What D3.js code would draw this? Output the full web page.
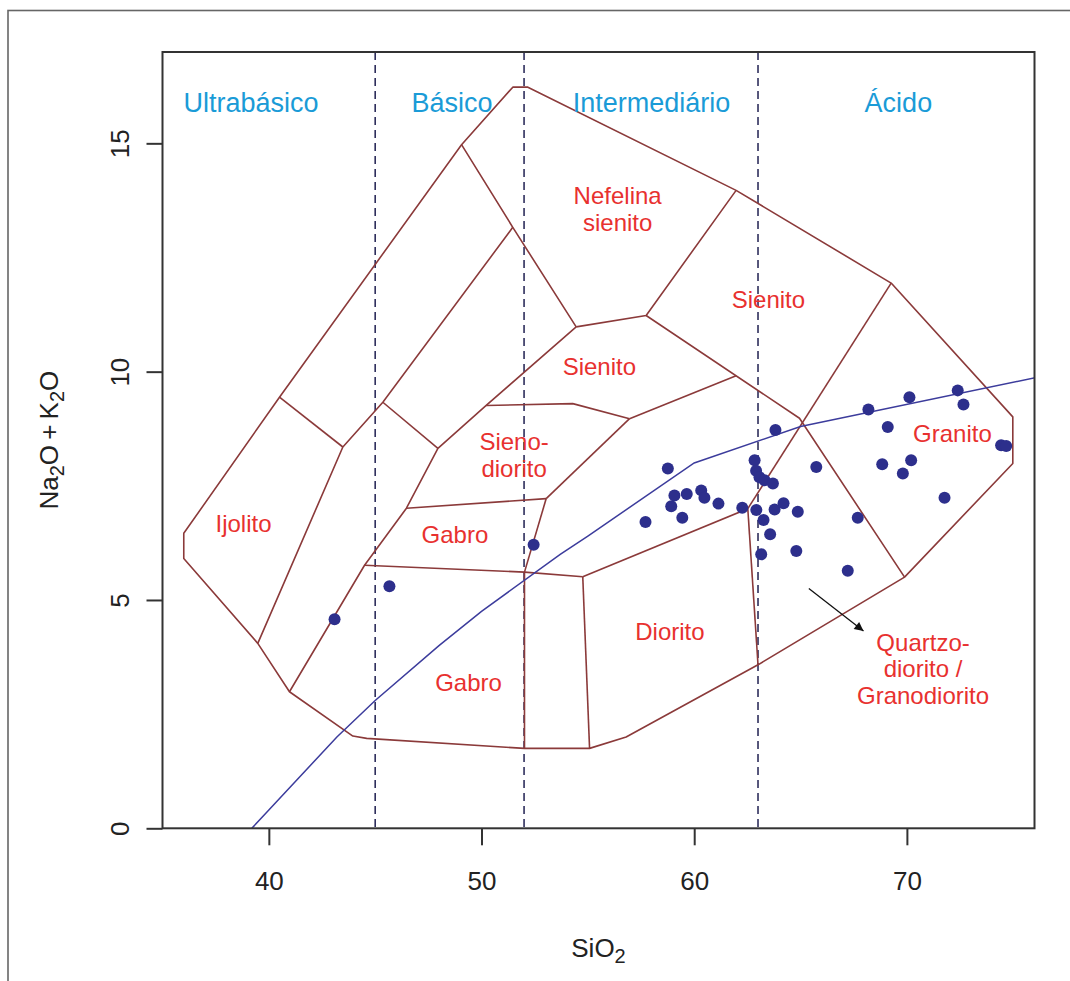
<!DOCTYPE html>
<html>
<head>
<meta charset="utf-8">
<script src="https://cdn.jsdelivr.net/npm/d3@7"></script>
<style>
  html, body { margin: 0; padding: 0; background: #fff; }
  svg { display: block; font-family: "Liberation Sans", Arial, Helvetica, sans-serif; }
  .field { fill: none; stroke: #8b3a3a; stroke-width: 1.6; stroke-linejoin: round; }
  .limit { stroke: #2e2e5c; stroke-width: 1.6; stroke-dasharray: 8 5; }
  .tick-label { font-size: 26px; fill: #222; }
  .zone { font-size: 27px; fill: #1a9bd7; text-anchor: middle; }
  .rock { font-size: 24px; fill: #e8312f; text-anchor: middle; }
</style>
</head>
<body>
<svg id="tas" width="1070" height="981"></svg>
<script>
// SiO2 (wt%) vs Na2O+K2O (wt%) — classification fields
const outline = [
  [36.0, 6.46], [40.5, 9.44], [49.06, 14.97], [51.47, 16.23], [52.18, 16.23],
  [61.97, 13.97], [69.26, 11.94], [74.98, 9.01], [74.98, 7.99], [69.89, 5.5],
  [63.0, 3.58], [56.8, 2.0], [55.08, 1.75], [52.02, 1.75], [44.6, 1.97],
  [43.95, 2.02], [40.97, 2.99], [39.48, 4.05], [36.0, 5.91]
];

const divides = [
  [[40.5, 9.44], [43.48, 8.35]],
  [[39.48, 4.05], [43.48, 8.35], [45.36, 9.33], [51.47, 13.16]],
  [[45.36, 9.33], [47.95, 8.32]],
  [[49.06, 14.97], [51.47, 13.16], [54.45, 10.98]],
  [[40.97, 2.99], [44.5, 5.76], [46.47, 7.01], [47.95, 8.32], [50.22, 9.26], [54.45, 10.98]],
  [[54.45, 10.98], [57.74, 11.23], [61.97, 13.97]],
  [[57.74, 11.23], [64.95, 8.98], [69.89, 5.5]],
  [[61.97, 9.91], [56.96, 8.97]],
  [[50.22, 9.26], [54.29, 9.3], [56.96, 8.97]],
  [[56.96, 8.97], [53.04, 7.22]],
  [[46.47, 7.01], [53.04, 7.22]],
  [[53.04, 7.22], [52.02, 5.61]],
  [[44.5, 5.76], [52.02, 5.61], [54.76, 5.51]],
  [[52.02, 5.61], [52.02, 1.75]],
  [[54.76, 5.51], [55.08, 1.75]],
  [[54.76, 5.51], [62.52, 7.0]],
  [[62.52, 7.0], [63.0, 3.58]],
  [[69.26, 11.94], [62.52, 7.0]]
];

// Irvine & Baragar alkaline / subalkaline divide
const alkalineLine = [
  [39.2, 0], [40, 0.4], [43.2, 2], [45, 2.8], [48, 4], [50, 4.75],
  [53.7, 6], [55, 6.4], [60, 8], [65, 8.8], [77.4, 10]
];

// silica limits: ultrabasic / basic / intermediate / acid
const silicaLimits = [45, 52, 63];

const zones = [
  { name: 'Ultrabásico', x: 39.16 },
  { name: 'Básico', x: 48.61 },
  { name: 'Intermediário', x: 57.99 },
  { name: 'Ácido', x: 69.6 }
];

const rockNames = [
  { lines: ['Nefelina', 'sienito'], x: 56.4, y: 13.67 },
  { lines: ['Sienito'], x: 63.49, y: 11.39 },
  { lines: ['Sienito'], x: 55.54, y: 9.92 },
  { lines: ['Sieno-', 'diorito'], x: 51.53, y: 8.28 },
  { lines: ['Ijolito'], x: 38.81, y: 6.49 },
  { lines: ['Gabro'], x: 48.75, y: 6.25 },
  { lines: ['Gabro'], x: 49.39, y: 3.01 },
  { lines: ['Diorito'], x: 58.86, y: 4.12 },
  { lines: ['Granito'], x: 72.14, y: 8.46 },
  { lines: ['Quartzo-', 'diorito /', 'Granodiorito'], x: 70.76, y: 3.89 }
];

const samples = [
  [43.09, 4.58], [45.67, 5.3], [52.45, 6.21],
  [58.76, 7.88], [57.71, 6.71], [59.07, 7.29], [58.92, 7.05], [59.65, 7.32],
  [59.44, 6.8], [60.33, 7.4], [60.48, 7.24], [61.14, 7.11], [62.26, 7.02],
  [62.84, 8.06], [62.91, 7.83], [63.07, 7.69], [63.31, 7.62], [63.7, 7.55],
  [62.92, 6.97], [63.78, 6.98], [64.2, 7.12], [63.26, 6.75], [64.87, 6.93],
  [63.57, 6.44], [63.15, 6.0], [64.8, 6.07], [63.82, 8.72], [65.74, 7.91],
  [67.69, 6.8], [67.22, 5.64], [68.19, 9.17], [69.1, 8.79], [68.84, 7.97],
  [70.12, 9.44], [69.81, 7.77], [70.2, 8.06], [72.39, 9.59], [72.66, 9.28],
  [71.77, 7.24], [74.43, 8.39], [74.67, 8.37]
];

const arrowFrom = [65.39, 5.25];
const arrowTo = [67.96, 4.32];

const xTicks = [40, 50, 60, 70];
const yTicks = [0, 5, 10, 15];

const svg = d3.select('#tas');
const plotLeft = 162.5, plotRight = 1034.5, plotTop = 52, plotBottom = 828.3;

const x = d3.scaleLinear().domain([35, 76]).range([plotLeft, plotRight]);
const y = d3.scaleLinear().domain([0, 17]).range([plotBottom, plotTop]);

// outer frame of the figure
svg.append('rect')
  .attr('x', 8).attr('y', 10.5)
  .attr('width', 1080).attr('height', 1000)
  .attr('fill', 'none').attr('stroke', '#666').attr('stroke-width', 1.6);

const defs = svg.append('defs');
defs.append('clipPath').attr('id', 'plot-area')
  .append('rect')
  .attr('x', plotLeft).attr('y', plotTop)
  .attr('width', plotRight - plotLeft).attr('height', plotBottom - plotTop);

defs.append('marker')
  .attr('id', 'head')
  .attr('viewBox', '0 0 10 10')
  .attr('refX', 10).attr('refY', 5)
  .attr('markerUnits', 'userSpaceOnUse')
  .attr('markerWidth', 11).attr('markerHeight', 9)
  .attr('orient', 'auto')
  .append('path').attr('d', 'M0,0 L10,5 L0,10 z').attr('fill', '#111');

const plot = svg.append('g').attr('clip-path', 'url(#plot-area)');
const line = d3.line().x(d => x(d[0])).y(d => y(d[1]));

plot.selectAll('.limit')
  .data(silicaLimits)
  .enter()
  .append('line')
  .attr('class', 'limit')
  .attr('x1', d => x(d)).attr('x2', d => x(d))
  .attr('y1', y(17)).attr('y2', y(0));

plot.append('path')
  .datum(outline)
  .attr('class', 'field')
  .attr('d', d => line(d) + 'Z');

plot.selectAll('.divide')
  .data(divides)
  .enter()
  .append('path')
  .attr('class', 'field divide')
  .attr('d', line);

plot.append('path')
  .datum(alkalineLine)
  .attr('fill', 'none')
  .attr('stroke', '#3c3c9c')
  .attr('stroke-width', 1.5)
  .attr('d', line);

plot.selectAll('.sample')
  .data(samples)
  .enter()
  .append('circle')
  .attr('class', 'sample')
  .attr('cx', d => x(d[0]))
  .attr('cy', d => y(d[1]))
  .attr('r', 6)
  .attr('fill', '#2d2f8c');

plot.append('line')
  .attr('x1', x(arrowFrom[0])).attr('y1', y(arrowFrom[1]))
  .attr('x2', x(arrowTo[0])).attr('y2', y(arrowTo[1]))
  .attr('stroke', '#111').attr('stroke-width', 1.3)
  .attr('marker-end', 'url(#head)');

// zone names along the top
svg.selectAll('.zone')
  .data(zones)
  .enter()
  .append('text')
  .attr('class', 'zone')
  .attr('x', d => x(d.x))
  .attr('y', y(15.68))
  .text(d => d.name);

// rock names
const rock = svg.selectAll('.rock')
  .data(rockNames)
  .enter()
  .append('text')
  .attr('class', 'rock')
  .attr('x', d => x(d.x))
  .attr('y', d => y(d.y));

rock.selectAll('tspan')
  .data(d => d.lines.map((t, i) => ({ t, i, x: d.x })))
  .enter()
  .append('tspan')
  .attr('x', d => x(d.x))
  .attr('dy', d => d.i === 0 ? 0 : 26.5)
  .text(d => d.t);

// plot box
svg.append('rect')
  .attr('x', plotLeft).attr('y', plotTop)
  .attr('width', plotRight - plotLeft).attr('height', plotBottom - plotTop)
  .attr('fill', 'none').attr('stroke', '#333').attr('stroke-width', 2);

// axes
const xAxis = svg.append('g')
  .attr('transform', `translate(0, ${plotBottom})`)
  .call(d3.axisBottom(x).tickValues(xTicks).tickSize(17).tickPadding(26));
xAxis.select('.domain').remove();
xAxis.selectAll('line').attr('stroke', '#333').attr('stroke-width', 2);
xAxis.selectAll('text').attr('class', 'tick-label');
xAxis.attr('font-size', null).attr('font-family', null);

const yAxis = svg.append('g')
  .attr('transform', `translate(${plotLeft}, 0)`)
  .call(d3.axisLeft(y).tickValues(yTicks).tickSize(16));
yAxis.select('.domain').remove();
yAxis.selectAll('line').attr('stroke', '#333').attr('stroke-width', 2);
yAxis.attr('font-size', null).attr('font-family', null);
yAxis.selectAll('text')
  .attr('class', 'tick-label')
  .attr('x', null).attr('dy', null)
  .attr('text-anchor', 'middle')
  .attr('transform', 'translate(-34, 0) rotate(-90)');

// axis titles
const xTitle = svg.append('text')
  .attr('class', 'tick-label')
  .attr('x', (plotLeft + plotRight) / 2)
  .attr('y', 956.5)
  .attr('text-anchor', 'middle');
xTitle.append('tspan').text('SiO');
xTitle.append('tspan').attr('font-size', 20).attr('dy', 6).text('2');

const yTitle = svg.append('text')
  .attr('class', 'tick-label')
  .attr('text-anchor', 'middle')
  .attr('transform', `translate(58, ${(plotTop + plotBottom) / 2}) rotate(-90)`);
yTitle.append('tspan').text('Na');
yTitle.append('tspan').attr('font-size', 20).attr('dy', 6).text('2');
yTitle.append('tspan').attr('dy', -6).text('O\u2009+\u2009K');
yTitle.append('tspan').attr('font-size', 20).attr('dy', 6).text('2');
yTitle.append('tspan').attr('dy', -6).text('O');
</script>
</body>
</html>
